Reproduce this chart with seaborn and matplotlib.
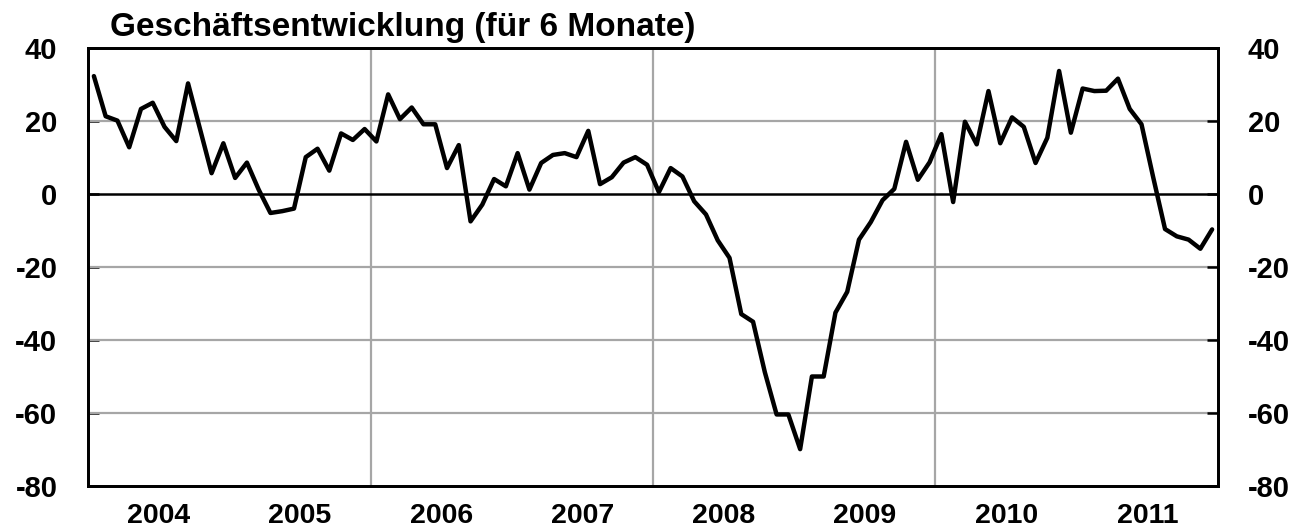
import numpy as np
import pandas as pd
import matplotlib
matplotlib.use("Agg")
import matplotlib.pyplot as plt
import seaborn as sns
from matplotlib.ticker import FixedLocator, NullFormatter, FixedFormatter

# Monthly survey balance, Jan 2004 - Dec 2011
values = [
    32.3, 21.3, 20.1, 12.8, 23.3, 25.0, 18.4, 14.5, 30.3, 18.0, 5.7, 13.9,     # 2004
    4.4, 8.6, 1.2, -5.2, -4.7, -4.0, 10.1, 12.4, 6.4, 16.6, 14.8, 17.8,         # 2005
    14.4, 27.3, 20.5, 23.7, 19.1, 19.1, 7.1, 13.4, -7.5, -2.9, 4.1, 2.1,        # 2006
    11.2, 1.2, 8.5, 10.7, 11.2, 10.1, 17.3, 2.7, 4.6, 8.6, 10.1, 8.0,           # 2007
    0.5, 7.1, 4.8, -2.0, -5.6, -12.7, -17.5, -32.9, -35.0, -48.8, -60.4, -60.4, # 2008
    -69.9, -50.0, -50.0, -32.5, -26.8, -12.5, -7.7, -1.7, 1.4, 14.3, 3.9, 8.7,  # 2009
    16.4, -2.2, 19.8, 13.6, 28.2, 13.9, 21.0, 18.4, 8.5, 15.4, 33.7, 16.8,      # 2010
    28.9, 28.2, 28.3, 31.6, 23.3, 19.1, 4.5, -9.6, -11.6, -12.5, -15.0, -9.7,   # 2011
]
years = ["2004", "2005", "2006", "2007", "2008", "2009", "2010", "2011"]
y_ticks = [-80, -60, -40, -20, 0, 20, 40]
title = "Geschäftsentwicklung (für 6 Monate)"

df = pd.DataFrame({"month": np.arange(len(values)) + 0.5, "value": values})

sns.set_style("white")
plt.rcParams["font.family"] = ["Liberation Sans", "DejaVu Sans"]
plt.rcParams["font.weight"] = "bold"
plt.rcParams["text.color"] = "black"
plt.rcParams["xtick.color"] = "black"
plt.rcParams["ytick.color"] = "black"
plt.rcParams["axes.labelcolor"] = "black"

fig = plt.figure(figsize=(13.13, 5.32), dpi=100)
ax = fig.add_axes([88 / 1313, 1 - 486 / 532, (1218 - 88) / 1313, (486 - 48) / 532])

n_years = len(years)
ax.set_xlim(0, 12 * n_years)
ax.set_ylim(y_ticks[0], y_ticks[-1])

# grid: grey horizontals, grey verticals every second year, black zero line
grid_col = "#a6a6a6"
for yv in y_ticks[1:-1]:
    if yv == 0:
        continue
    ax.axhline(yv, color=grid_col, lw=1.6, zorder=1)
for k in (2, 4, 6):
    ax.axvline(12 * k, color=grid_col, lw=1.6, zorder=1)
ax.axhline(0, color="black", lw=1.8, zorder=2)

sns.lineplot(data=df, x="month", y="value", ax=ax, color="black", lw=3.2, zorder=3)

ax.set_xlabel("")
ax.set_ylabel("")

# year ticks at boundaries, labels centred in each year
ax.xaxis.set_major_locator(FixedLocator([12 * k for k in range(1, n_years)]))
ax.xaxis.set_major_formatter(NullFormatter())
ax.xaxis.set_minor_locator(FixedLocator([12 * k + 6 for k in range(n_years)]))
ax.xaxis.set_minor_formatter(FixedFormatter(years))
ax.tick_params(axis="x", which="major", direction="in", length=5, width=1.8, color="black")
ax.tick_params(axis="x", which="minor", length=0, pad=12, labelsize=20.5,
               labelcolor="black")

ax.set_yticks(y_ticks)
ax.set_yticklabels([str(v) for v in y_ticks])
ax.tick_params(axis="y", direction="in", length=8, width=1.8, color="black",
               labelsize=21, pad=22, labelcolor="black")

ax2 = ax.twinx()
ax2.set_ylim(ax.get_ylim())
ax2.set_yticks(y_ticks)
ax2.set_yticklabels([str(v) for v in y_ticks])
ax2.tick_params(axis="y", direction="in", length=8, width=1.8, color="black",
                labelsize=21, pad=21.5, labelcolor="black")

for a in (ax, ax2):
    for s in a.spines.values():
        s.set_visible(True)
        s.set_color("black")
        s.set_linewidth(2.0)

fig.text(110 / 1313, 1 - 36 / 532, title, fontsize=24, fontweight="bold",
         color="black", ha="left", va="baseline")

fig.savefig("out.png", dpi=100, facecolor="white")
